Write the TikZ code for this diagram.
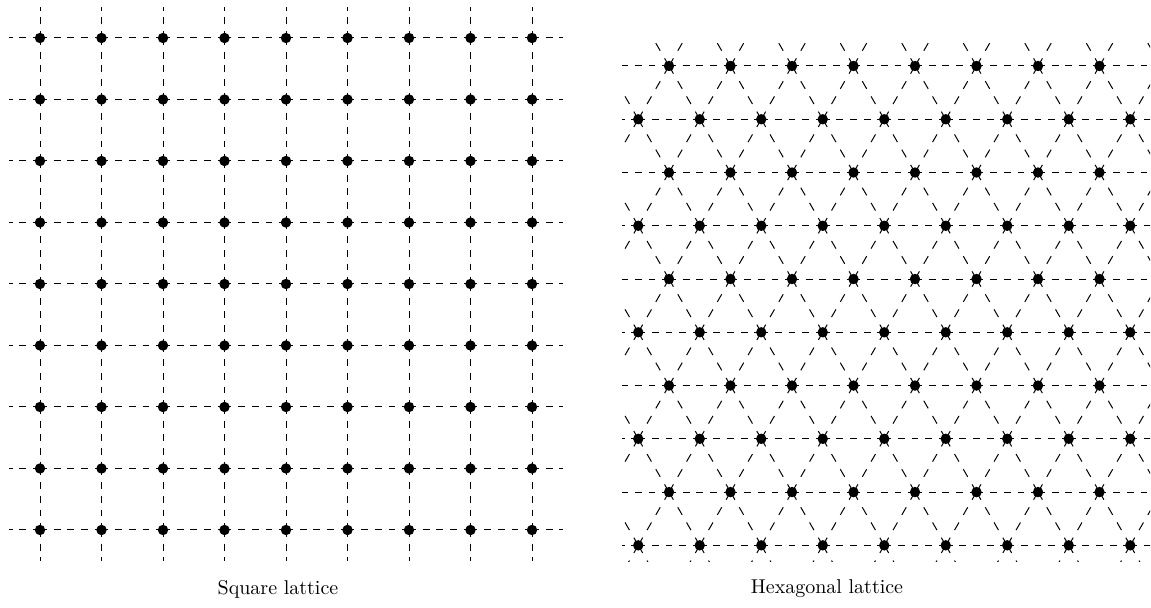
\documentclass[tikz,border=0pt]{standalone}
\begin{document}
\begin{tikzpicture}[x=0.5pt,y=-0.5pt]
\tikzset{
  sqlat/.style={dash pattern=on 3.42pt off 3.42pt, line width=0.5pt},
  hxlat/.style={dash pattern=on 3.42pt off 3.42pt, line width=0.5pt},
  dglat/.style={dash pattern=on 4.39pt off 4.39pt, line width=0.5pt},
  site/.style={fill=black},
  captxt/.style={inner sep=0pt}
}
\useasboundingbox (0,0) rectangle (1151,608);
% ---------- square lattice ----------
\foreach \i in {0,...,8} {
  \pgfmathsetmacro{\xx}{40+61.5*\i}
  \pgfmathsetmacro{\yy}{38+61.5*\i}
  \draw[sqlat] (\xx,38) -- (\xx,7.25);
  \draw[sqlat] (\xx,530) -- (\xx,560.75);
  \draw[sqlat] (40,\yy) -- (9.25,\yy);
  \draw[sqlat] (532,\yy) -- (562.75,\yy);
  \foreach \k in {0,...,7} {
    \draw[sqlat] (\xx,{38+61.5*\k}) -- (\xx,{38+61.5*(\k+1)});
    \draw[sqlat] ({40+61.5*\k},\yy) -- ({40+61.5*(\k+1)},\yy);
  }
}
\foreach \i in {0,...,8} \foreach \j in {0,...,8}
  \fill[site] ({40+61.5*\i},{38+61.5*\j}) circle[radius=2.6pt];
% ---------- hexagonal lattice ----------
\begin{scope}
\clip (622,37) rectangle (1150,562);
\foreach \j in {-1,...,10} {
  \foreach \i in {-1,...,9} {
    \pgfmathsetmacro{\px}{669+61.5*\i-30.75*mod(\j+2,2)}
    \pgfmathsetmacro{\py}{66+53.26*\j}
    \draw[hxlat] (\px,\py) -- ({\px+61.5},\py);
    \draw[dglat] (\px,\py) -- ({\px-30.75},{\py+53.26});
    \draw[dglat] (\px,\py) -- ({\px+30.75},{\py+53.26});
  }
}
\end{scope}
\foreach \j in {0,2,...,8} \foreach \i in {0,...,7}
  \fill[site] ({669+61.5*\i},{66+53.26*\j}) circle[radius=2.6pt];
\foreach \j in {1,3,...,9} \foreach \i in {0,...,8}
  \fill[site] ({638.25+61.5*\i},{66+53.26*\j}) circle[radius=2.6pt];
% ---------- labels ----------
\node[captxt] (sq) at (278,589) {Square lattice};
\node[captxt] (hx) at (827,589) {Hexagonal lattice};
\end{tikzpicture}
\end{document}
